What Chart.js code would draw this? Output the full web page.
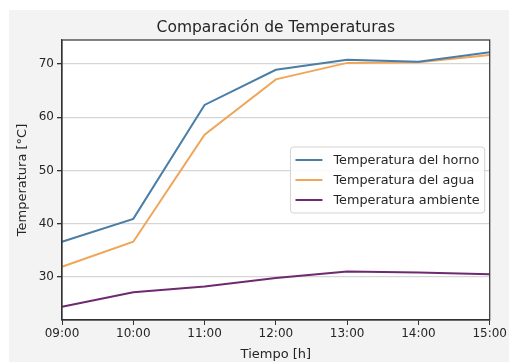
<!DOCTYPE html>
<html>
<head>
<meta charset="utf-8">
<script src="https://cdn.jsdelivr.net/npm/chart.js@4.4.0/dist/chart.umd.min.js"></script>
<style>
html, body { margin: 0; padding: 0; background: #fff; }
#fondo { position: absolute; left: 9px; top: 10px; width: 500px; height: 352px; background: #f3f3f3; }
#contenedor { position: absolute; left: 0; top: 0; width: 509px; height: 362px; }
</style>
</head>
<body>
<div id="fondo"></div>
<div id="contenedor"><canvas id="grafica" width="509" height="362"></canvas></div>
<script>
const HORAS = ["09:00", "10:00", "11:00", "12:00", "13:00", "14:00", "15:00"]
const TEMP_HORNO = [36.6, 40.9, 62.3, 68.9, 70.8, 70.4, 72.2]
const TEMP_AGUA = [31.9, 36.6, 56.7, 67.1, 70.2, 70.3, 71.7]
const TEMP_AMBIENTE = [24.4, 27.1, 28.2, 29.8, 31.0, 30.8, 30.5]
const TICKS_Y = [30, 40, 50, 60, 70]
const TITULO = "Comparación de Temperaturas"

const FUENTE = '"DejaVu Sans", sans-serif'
const TEXTO = '#262626'

// fondo blanco del area de la grafica
const fondoPlugin = {
   id: 'fondo',
   beforeDraw(chart){
      const {ctx, chartArea} = chart
      ctx.save()
      ctx.fillStyle = '#ffffff'
      ctx.fillRect(chartArea.left, chartArea.top, chartArea.right - chartArea.left, chartArea.bottom - chartArea.top)
      ctx.restore()
   }
}

// marco, titulo y leyenda
const marcoPlugin = {
   id: 'marco',
   afterDraw(chart){
      const {ctx, chartArea} = chart
      ctx.save()
      ctx.strokeStyle = '#333333'
      ctx.lineWidth = 1.2
      ctx.strokeRect(chartArea.left, chartArea.top, chartArea.right - chartArea.left, chartArea.bottom - chartArea.top)

      ctx.fillStyle = TEXTO
      ctx.font = '15.5px ' + FUENTE
      ctx.textAlign = 'center'
      ctx.textBaseline = 'middle'
      ctx.fillText(TITULO, (chartArea.left + chartArea.right) / 2, 28)

      const items = chart.data.datasets
      ctx.font = '12.8px ' + FUENTE
      const anchoTexto = Math.max(...items.map(d => ctx.measureText(d.label).width))
      const lineaW = 27, gap = 11, padX = 5, padY = 3, fila = 20
      const w = padX + lineaW + gap + anchoTexto + padX
      const h = padY * 2 + fila * items.length
      const x = chartArea.right - 5 - w
      const y = (chartArea.top + chartArea.bottom) / 2 - h / 2

      ctx.beginPath()
      ctx.roundRect(x, y, w, h, 3)
      ctx.fillStyle = 'rgba(255,255,255,0.85)'
      ctx.fill()
      ctx.strokeStyle = '#d4d4d4'
      ctx.lineWidth = 1
      ctx.stroke()

      ctx.textAlign = 'left'
      items.forEach((d, i) => {
         const cy = y + padY + fila * i + fila / 2
         ctx.beginPath()
         ctx.moveTo(x + padX, cy)
         ctx.lineTo(x + padX + lineaW, cy)
         ctx.strokeStyle = d.borderColor
         ctx.lineWidth = 2
         ctx.stroke()
         ctx.fillStyle = TEXTO
         ctx.fillText(d.label, x + padX + lineaW + gap, cy + 1)
      })
      ctx.restore()
   }
}

const ctx = document.getElementById('grafica').getContext('2d')

new Chart(ctx, {
   type: 'line',
   data: {
      labels: HORAS,
      datasets: [
         { label: 'Temperatura del horno', data: TEMP_HORNO, borderColor: '#4a7ea6', borderWidth: 2, pointRadius: 0, tension: 0 },
         { label: 'Temperatura del agua', data: TEMP_AGUA, borderColor: '#f0a658', borderWidth: 2, pointRadius: 0, tension: 0 },
         { label: 'Temperatura ambiente', data: TEMP_AMBIENTE, borderColor: '#6e2a70', borderWidth: 2, pointRadius: 0, tension: 0 }
      ]
   },
   options: {
      responsive: false,
      animation: false,
      layout: { padding: { top: 40, right: 17, left: 0, bottom: 0 } },
      plugins: {
         legend: { display: false },
         title: { display: false },
         tooltip: { enabled: false }
      },
      scales: {
         x: {
            offset: false,
            afterFit(scale){ scale.height = 42 },
            grid: { drawOnChartArea: false, tickLength: 5, tickColor: '#333333' },
            border: { display: true, color: '#333333', width: 1.2 },
            ticks: { color: TEXTO, font: { family: FUENTE, size: 12 }, padding: 2, maxRotation: 0, autoSkip: false },
            title: { display: true, text: 'Tiempo [h]', color: TEXTO, font: { family: FUENTE, size: 13 }, padding: { top: 0, bottom: 0 } }
         },
         y: {
            min: 21.9,
            max: 74.5,
            afterFit(scale){ scale.width = 62 },
            afterBuildTicks(scale){ scale.ticks = TICKS_Y.map(v => ({ value: v })) },
            grid: { color: '#d6d6d6', lineWidth: 1.3, tickLength: 5, tickColor: '#333333' },
            border: { display: true, color: '#333333', width: 1.2 },
            ticks: { color: TEXTO, font: { family: FUENTE, size: 12 }, padding: 3 },
            title: { display: true, text: 'Temperatura [°C]', color: TEXTO, font: { family: FUENTE, size: 13 }, padding: { top: 15, bottom: 0 } }
         }
      }
   },
   plugins: [fondoPlugin, marcoPlugin]
})
</script>
</body>
</html>
